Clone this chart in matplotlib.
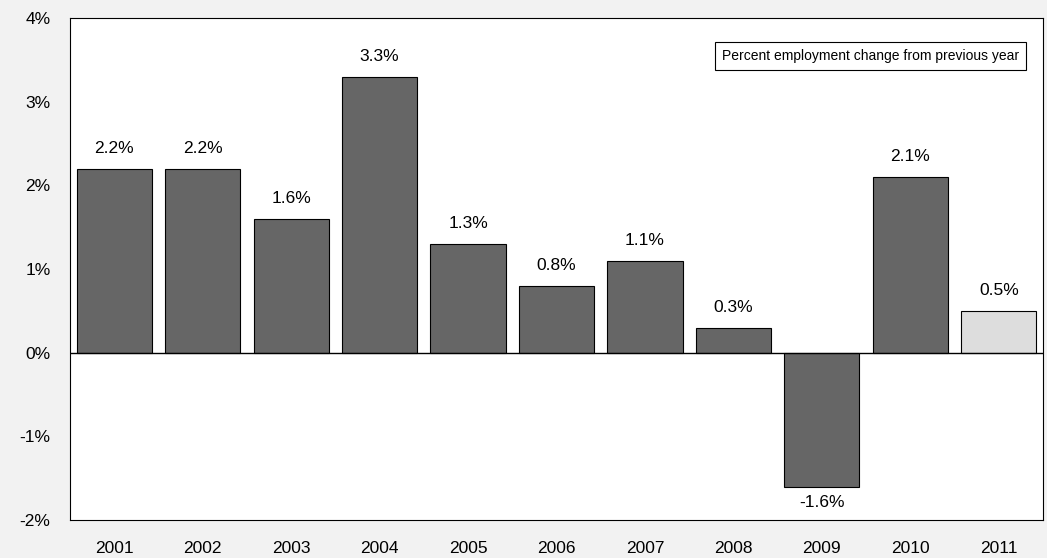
import matplotlib
matplotlib.use("Agg")
import matplotlib.pyplot as plt

years = ["2001","2002","2003","2004","2005","2006","2007","2008","2009","2010","2011"]
values = [2.2, 2.2, 1.6, 3.3, 1.3, 0.8, 1.1, 0.3, -1.6, 2.1, 0.5]
colors = ["#666666"]*10 + ["#dddddd"]

plt.rcParams['font.family'] = ['Liberation Sans', 'DejaVu Sans']
fig = plt.figure(figsize=(10.47, 5.58), dpi=100, facecolor="#f2f2f2")
ax = fig.add_axes([70/1047, 38/558, 973/1047, 502/558])
ax.set_facecolor("white")
x = range(len(years))
ax.bar(x, values, width=0.85, color=colors, edgecolor="black", linewidth=0.8, zorder=2)
ax.axhline(0, color="black", linewidth=1, zorder=3)
for i, v in enumerate(values):
    if v >= 0:
        ax.text(i, v + 0.15, f"{v:.1f}%", ha="center", va="bottom", fontsize=12.5)
    else:
        ax.text(i, v - 0.1, f"{v:.1f}%", ha="center", va="top", fontsize=12.5)
ax.set_xlim(-0.5, len(years) - 0.5)
ax.set_ylim(-2, 4)
ax.set_yticks([-2, -1, 0, 1, 2, 3, 4])
ax.set_yticklabels([f"{t}%" for t in [-2, -1, 0, 1, 2, 3, 4]])
ax.set_xticks(list(x))
ax.set_xticklabels(years)
ax.tick_params(axis="both", length=0, labelsize=12.5)
ax.tick_params(axis="x", pad=15)
ax.tick_params(axis="y", pad=14)
for s in ax.spines.values():
    s.set_color("black"); s.set_linewidth(0.8)
ax.text(0.975, 0.925, "Percent employment change from previous year", transform=ax.transAxes,
        ha="right", va="center", fontsize=10,
        bbox=dict(boxstyle="square,pad=0.5", facecolor="white", edgecolor="black", linewidth=0.8))
fig.savefig("out.png", dpi=100, facecolor=fig.get_facecolor())
